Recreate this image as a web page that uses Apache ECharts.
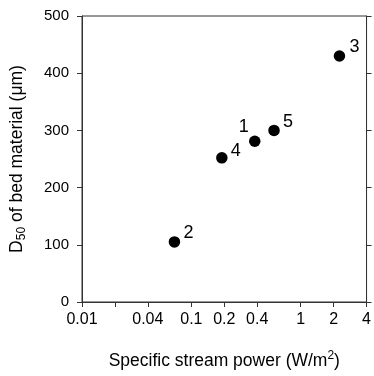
<!DOCTYPE html>
<html><head><meta charset="utf-8">
<script src="https://cdn.jsdelivr.net/npm/echarts@6/dist/echarts.min.js"></script>
<style>html,body{margin:0;padding:0;background:#fff}#c{width:374px;height:376px}</style>
</head><body><div id="c"></div>
<script>
var siteLabels = ['1','2','3','4','5'];
var streamPower = [0.38, 0.07, 2.26, 0.19, 0.57];
var d50 = [281, 105, 430, 252, 300];
var labelOffsets = [[-11,-14],[14,-9],[15,-9],[14,-7],[14,-8]];
var xTickValues = [0.01, 0.02, 0.04, 0.1, 0.2, 0.4, 1, 2, 4];
var xLabelValues = [0.01, 0.04, 0.1, 0.2, 0.4, 1, 2, 4];
var yMin = 0, yMax = 500, yStep = 100;

var font = 'Liberation Sans, Arial, sans-serif';
var axisCol = '#333';
var textCol = '#000';

var data = streamPower.map(function(x,i){
  return {value:[x,d50[i]], label:{formatter:siteLabels[i], offset:labelOffsets[i]}};
});

var chart = echarts.init(document.getElementById('c'), null, {renderer:'canvas'});
chart.setOption({
  animation:false,
  grid:{left:82,right:6,top:16,bottom:74,show:true,borderColor:axisCol,borderWidth:1},
  xAxis:[{
    type:'log', min:0.01, max:4, logBase:10,
    axisLine:{show:true,lineStyle:{color:axisCol,width:1}},
    axisTick:{show:true,length:5,inside:false,customValues:xTickValues,lineStyle:{color:axisCol}},
    minorTick:{show:false},
    splitLine:{show:false},
    axisLabel:{show:true,customValues:xLabelValues,margin:10,fontSize:16,color:textCol,fontFamily:font,
      formatter:function(v){return String(+(+v).toPrecision(3));}},
    name:'{a|Specific stream power (W/m}{s|2}{a|)}',
    nameLocation:'middle', nameGap:48,
    nameTextStyle:{rich:{
      a:{fontSize:17.5,color:textCol,fontFamily:font,lineHeight:20,verticalAlign:'bottom'},
      s:{fontSize:12,color:textCol,fontFamily:font,lineHeight:12,verticalAlign:'top'}
    }}
  }],
  yAxis:[{
    type:'value', min:yMin, max:yMax, interval:yStep, position:'left',
    axisLine:{show:true,lineStyle:{color:axisCol,width:1}},
    axisTick:{show:true,length:5,inside:false,lineStyle:{color:axisCol}},
    splitLine:{show:false},
    axisLabel:{margin:13,fontSize:15,color:textCol,fontFamily:font},
    name:'{a|D}{s|50}{a| of bed material (μm)}',
    nameLocation:'middle', nameRotate:90, nameGap:54,
    nameTextStyle:{rich:{
      a:{fontSize:17.5,color:textCol,fontFamily:font,lineHeight:20,verticalAlign:'top'},
      s:{fontSize:12,color:textCol,fontFamily:font,lineHeight:12,verticalAlign:'bottom'}
    }}
  },{
    type:'value', min:yMin, max:yMax, interval:yStep, position:'right',
    axisLine:{show:true,lineStyle:{color:axisCol,width:1}},
    axisTick:{show:true,length:5,inside:false,lineStyle:{color:axisCol}},
    splitLine:{show:false},
    axisLabel:{show:false}
  }],
  series:[{
    type:'scatter', xAxisIndex:0, yAxisIndex:0,
    symbol:'circle', symbolSize:11.5,
    itemStyle:{color:'#000',opacity:1},
    label:{show:true,position:'inside',align:'center',verticalAlign:'middle',
      fontSize:18,color:textCol,fontFamily:font},
    data:data
  }]
});
</script></body></html>
